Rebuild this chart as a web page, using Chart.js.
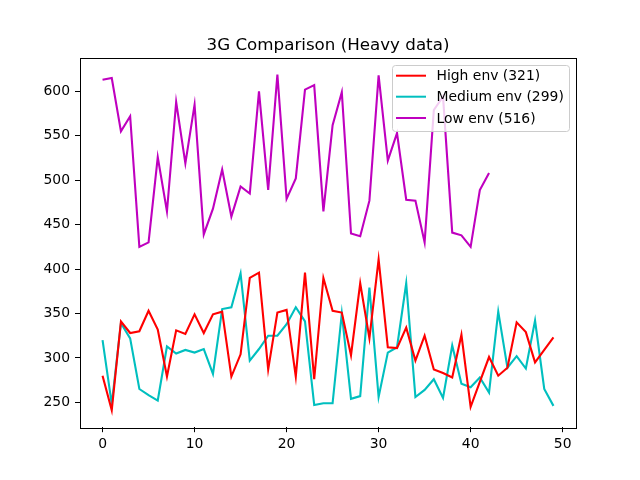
<!DOCTYPE html>
<html>
<head>
<meta charset="utf-8">
<script src="https://cdn.jsdelivr.net/npm/chart.js@4/dist/chart.umd.min.js"></script>
<style>
  html, body { margin: 0; padding: 0; background: #fff; }
  canvas { display: block; }
</style>
</head>
<body>
<canvas id="chart" width="640" height="480"></canvas>
<script>
// values
const highEnv = [280, 241, 341, 328, 330, 353, 332, 279, 331, 327,
                 349, 328, 349, 352, 279, 304, 390, 396, 287, 351,
                 354, 279, 396, 276, 390, 353, 351, 303, 384, 322,
                 411, 312, 311, 334, 297, 325, 287, 283, 278, 326,
                 245, 273, 301, 280, 289, 340, 329, 295, 309, 323];
const mediumEnv = [320, 248, 339, 322, 265, 258, 252, 313, 305, 309,
                   306, 310, 282, 355, 357, 395, 297, 310, 325, 325,
                   338, 357, 341, 247, 249, 249, 350, 254, 257, 379,
                   256, 306, 312, 384, 256, 264, 276, 255, 314, 271,
                   267, 278, 261, 352, 289, 302, 288, 342, 265, 246];
const lowEnv = [613, 615, 555, 572, 425, 430, 526, 465, 588, 519,
                585, 439, 468, 512, 459, 493, 485, 600, 489, 619,
                479, 502, 602, 607, 465, 562, 599, 440, 437, 477,
                618, 522, 553, 478, 477, 430, 579, 594, 441, 438,
                425, 489, 508];
const seriesLabels = ['High env (321)', 'Medium env (299)', 'Low env (516)'];
const xTicks = [0, 10, 20, 30, 40, 50];
const yTicks = [250, 300, 350, 400, 450, 500, 550, 600];
const titleText = '3G Comparison (Heavy data)';

const FONT = "'DejaVu Sans', sans-serif";

function points(arr) {
  return arr.map((v, i) => ({ x: i, y: v }));
}

// frame, title and matplotlib-like legend
const decor = {
  id: 'decor',
  afterDraw(chart) {
    const ctx = chart.ctx;
    const a = chart.chartArea;
    ctx.save();
    ctx.strokeStyle = '#000';
    ctx.lineWidth = 1;
    ctx.strokeRect(Math.round(a.left) + 0.5, Math.round(a.top) + 0.5,
                   Math.round(a.right - a.left), Math.round(a.bottom - a.top));

    ctx.fillStyle = '#000';
    ctx.font = '16.7px ' + FONT;
    ctx.textAlign = 'center';
    ctx.textBaseline = 'alphabetic';
    ctx.fillText(titleText, (a.left + a.right) / 2, a.top - 8);

    // legend box
    const bx = 392.5, by = 65.5, bw = 177, bh = 66, r = 3;
    ctx.beginPath();
    ctx.moveTo(bx + r, by);
    ctx.arcTo(bx + bw, by, bx + bw, by + bh, r);
    ctx.arcTo(bx + bw, by + bh, bx, by + bh, r);
    ctx.arcTo(bx, by + bh, bx, by, r);
    ctx.arcTo(bx, by, bx + bw, by, r);
    ctx.closePath();
    ctx.fillStyle = 'rgba(255,255,255,0.8)';
    ctx.fill();
    ctx.strokeStyle = '#cccccc';
    ctx.stroke();

    ctx.font = '13.9px ' + FONT;
    ctx.textAlign = 'left';
    ctx.textBaseline = 'middle';
    const rows = [75.7, 96.7, 118];
    chart.data.datasets.forEach((ds, i) => {
      ctx.strokeStyle = ds.borderColor;
      ctx.lineWidth = 2;
      ctx.beginPath();
      ctx.moveTo(396, rows[i]);
      ctx.lineTo(426, rows[i]);
      ctx.stroke();
      ctx.fillStyle = '#000';
      ctx.fillText(ds.label, 436.5, rows[i] + 1);
    });
    ctx.restore();
  }
};

new Chart(document.getElementById('chart'), {
  type: 'line',
  data: {
    datasets: [
      { label: seriesLabels[0], data: points(highEnv), borderColor: '#ff0000' },
      { label: seriesLabels[1], data: points(mediumEnv), borderColor: '#00bfbf' },
      { label: seriesLabels[2], data: points(lowEnv), borderColor: '#bf00bf' }
    ]
  },
  options: {
    responsive: false,
    animation: false,
    devicePixelRatio: 1,
    layout: { padding: { left: 0, top: 57.6, right: 64, bottom: 0 } },
    elements: {
      point: { radius: 0 },
      line: { borderWidth: 2.1, tension: 0, fill: false }
    },
    plugins: {
      legend: { display: false },
      title: { display: false },
      tooltip: { enabled: false }
    },
    scales: {
      x: {
        type: 'linear',
        min: -2.45,
        max: 51.45,
        afterBuildTicks: s => { s.ticks = xTicks.map(v => ({ value: v })); },
        afterFit: s => { s.height = 52.8; },
        border: { display: false },
        grid: { drawOnChartArea: false, drawTicks: true, tickLength: 5, color: '#000', tickWidth: 1 },
        ticks: { color: '#000', font: { family: FONT, size: 13.9 }, padding: 4, maxRotation: 0 }
      },
      y: {
        type: 'linear',
        min: 222,
        max: 638,
        afterBuildTicks: s => { s.ticks = yTicks.map(v => ({ value: v })); },
        afterFit: s => { s.width = 80; },
        border: { display: false },
        grid: { drawOnChartArea: false, drawTicks: true, tickLength: 5, color: '#000', tickWidth: 1 },
        ticks: { color: '#000', font: { family: FONT, size: 13.9 }, padding: 5 }
      }
    }
  },
  plugins: [decor]
});
</script>
</body>
</html>
